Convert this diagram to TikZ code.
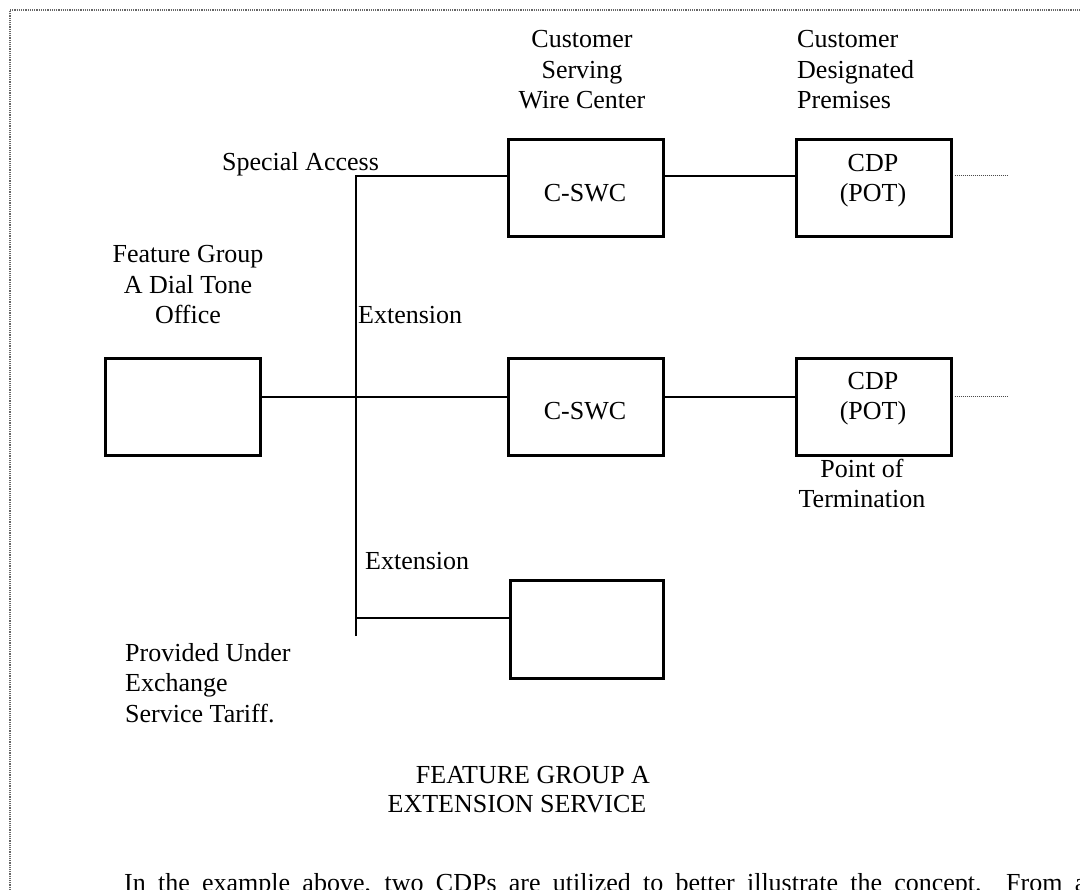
\documentclass[tikz,border=0pt]{standalone}
\usepackage{fontspec}
\setmainfont{Liberation Serif}
\begin{document}
\begin{tikzpicture}[x=1pt,y=-1pt,
  box/.style={draw, line width=3pt, minimum width=155pt, minimum height=97pt, inner sep=0pt},
  wire/.style={line width=2.6pt},
  tail/.style={densely dotted, line width=1pt, black!70},
  frame/.style={densely dotted, line width=1.2pt, black!60},
  txt/.style={inner sep=0pt, font=\fontsize{26}{30.5}\selectfont},
]
\useasboundingbox (0,0) rectangle (1080,890);

% outer frame (left and top edges)
\coordinate (fbl) at (10,890);
\coordinate (ftl) at (10,10);
\coordinate (ftr) at (1080,10);
\draw[frame] (fbl) -- (ftl) -- (ftr);

% boxes
\node[box] (fgbox) at (183,407) {};
\node[box] (cswcA) at (585.5,188.5) {};
\node[box] (cdpA)  at (873.5,188) {};
\node[box] (cswcB) at (585.5,407.5) {};
\node[box] (cdpB)  at (873.5,407.5) {};
\node[box, minimum width=153pt] (extbox) at (587,629.5) {};

% box texts (multi-line nodes sit on the baseline of their last line)
\node[txt, anchor=base] (lblA) at (585,202) {C-SWC};
\node[txt, anchor=base] (lblB) at (585,420) {C-SWC};
\node[txt, anchor=base, align=center] (potA) at (873,202) {CDP\\(POT)};
\node[txt, anchor=base, align=center] (potB) at (873,420) {CDP\\(POT)};

% extension bus
\coordinate (top) at (356,176);
\coordinate (mid) at (356,397);
\coordinate (low) at (356,618);
\coordinate (bot) at (356,636);
\draw[wire] (bot) -- (top) -- (cswcA.west |- top);
\draw[wire] (fgbox.east |- mid) -- (cswcB.west |- mid);
\draw[wire] (low) -- (extbox.west |- low);
\draw[wire] (cswcA.east |- top) -- (cdpA.west |- top);
\draw[wire] (cswcB.east |- mid) -- (cdpB.west |- mid);

% dotted continuations
\coordinate (endA) at (1008,176);
\coordinate (endB) at (1008,397);
\draw[tail] ([xshift=2pt]cdpA.east |- top) -- (endA);
\draw[tail] ([xshift=2pt]cdpB.east |- mid) -- (endB);

% labels
\node[txt, anchor=base, align=center] (cswhead) at (582,109) {Customer\\Serving\\Wire Center};
\node[txt, anchor=base west, align=left] (cdphead) at (797,109) {Customer\\Designated\\Premises};
\node[txt, anchor=base west] (spacc) at (222,171) {Special Access};
\node[txt, anchor=base, align=center] (fghead) at (188,324) {Feature Group\\A Dial Tone\\Office};
\node[txt, anchor=base west] (ext1) at (358,324) {Extension};
\node[txt, anchor=base west] (ext2) at (365,569) {Extension};
\node[txt, anchor=base, align=center] (pot) at (862,508) {Point of\\Termination};
\node[txt, anchor=base west, align=left] (tariff) at (125,722) {Provided Under\\Exchange\\Service Tariff.};

% caption
\node[txt, anchor=base] (cap1) at (533,783) {FEATURE GROUP A};
\node[txt, anchor=base] (cap2) at (517,812) {EXTENSION SERVICE};

% body text
\node[txt, anchor=base west] (body) at (124,891) {\makebox[962pt][s]{In the example above, two CDPs are utilized to better illustrate the concept.\ \ From a}};
\end{tikzpicture}
\end{document}
